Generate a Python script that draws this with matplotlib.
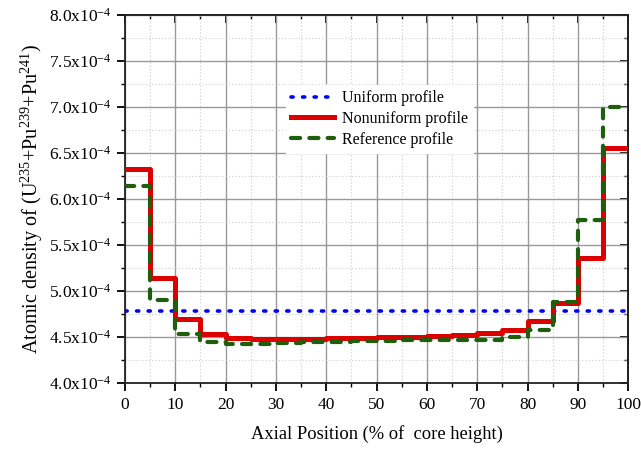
import matplotlib
matplotlib.use("Agg")
import matplotlib.pyplot as plt
import numpy as np
from matplotlib.ticker import MultipleLocator, FuncFormatter

# Data (values in units of 1e-4)
bin_edges = [0, 5, 10, 15, 20, 25, 30, 35, 40, 45, 50, 55, 60, 65, 70, 75, 80, 85, 90, 95, 100]
nonuniform = [6.33, 5.14, 4.70, 4.53, 4.49, 4.475, 4.475, 4.48, 4.485, 4.49, 4.50, 4.505, 4.51,
              4.52, 4.54, 4.58, 4.67, 4.87, 5.36, 6.55]
reference = [6.14, 4.90, 4.53, 4.45, 4.42, 4.42, 4.43, 4.44, 4.45, 4.46, 4.46, 4.47, 4.47,
             4.47, 4.47, 4.50, 4.58, 4.88, 5.77, 7.00]
uniform_value = 4.78
x_label = "Axial Position (% of  core height)"
y_label = "Atomic density of (U$^{235}$+Pu$^{239}$+Pu$^{241}$)"
legend_labels = ["Uniform profile", "Nonuniform profile", "Reference profile"]

plt.rcParams['font.family'] = ['Liberation Serif', 'DejaVu Serif']
plt.rcParams['mathtext.fontset'] = 'custom'
plt.rcParams['mathtext.rm'] = 'Liberation Serif'
plt.rcParams['mathtext.it'] = 'Liberation Serif:italic'

fig = plt.figure(figsize=(6.41, 4.49), dpi=100)
ax = fig.add_axes([0.195, 0.147, 0.785, 0.820])

scale = 1e-4
edges = np.array(bin_edges)
nu = np.array(nonuniform) * scale
ref = np.array(reference) * scale
nu_s = np.append(nu, nu[-1])
ref_s = np.append(ref, ref[-1])

l1, = ax.plot([0, 100], [uniform_value * scale] * 2, color='#0000ff', lw=2.6,
              linestyle=(0, (0.6, 2.6)), dash_capstyle='round', zorder=3)
l2, = ax.step(edges, nu_s, where='post', color='#dd0000', lw=3.6, zorder=4)
l3, = ax.step(edges, ref_s, where='post', color='#1f5e0c', lw=3.0,
              linestyle=(0, (2.2, 2.2)), dash_capstyle='round', zorder=5)

ax.set_xlim(0, 100)
ax.set_ylim(4.0e-4, 8.0e-4)
ax.xaxis.set_major_locator(MultipleLocator(10))
ax.xaxis.set_minor_locator(MultipleLocator(5))
ax.yaxis.set_major_locator(MultipleLocator(0.5e-4))
ax.yaxis.set_minor_locator(MultipleLocator(0.25e-4))
ax.yaxis.set_major_formatter(FuncFormatter(lambda v, p: "%.1fx10$^{-4}$" % (v / scale)))

ax.grid(which='major', color='#999999', lw=1.0, linestyle='-')
ax.grid(which='minor', color='#cccccc', lw=0.8, linestyle=(0, (1, 2)))
ax.set_axisbelow(True)

ax.tick_params(which='major', direction='out', length=6, width=1.3, labelsize=12.5, colors='black')
ax.tick_params(which='minor', direction='out', length=3, width=1.0)
ax.tick_params(axis='x', pad=4)
for s in ax.spines.values():
    s.set_linewidth(1.3)
    s.set_color('#222222')

secx = ax.secondary_xaxis('top')
secx.xaxis.set_major_locator(MultipleLocator(10))
secx.xaxis.set_minor_locator(MultipleLocator(5))
secx.tick_params(which='major', direction='in', length=6, width=1.3, labeltop=False)
secx.tick_params(which='minor', direction='in', length=3, width=1.0)
secx.spines['top'].set_linewidth(1.3)
secy = ax.secondary_yaxis('right')
secy.yaxis.set_major_locator(MultipleLocator(0.5e-4))
secy.yaxis.set_minor_locator(MultipleLocator(0.25e-4))
secy.tick_params(which='major', direction='in', length=6, width=1.3, labelright=False)
secy.tick_params(which='minor', direction='in', length=3, width=1.0)
secy.spines['right'].set_linewidth(1.3)

ax.set_xlabel(x_label, fontsize=13.3, labelpad=9)
ax.set_ylabel(y_label, fontsize=14.5, labelpad=3)

leg = ax.legend([l1, l2, l3], legend_labels, loc='upper left', bbox_to_anchor=(0.305, 0.83),
                fontsize=11.5, frameon=True, framealpha=1, edgecolor='white', fancybox=False,
                handlelength=2.7, handletextpad=0.5, labelspacing=0.3, borderpad=0.3)
leg.set_zorder(10)

fig.savefig("out.png", dpi=100)
